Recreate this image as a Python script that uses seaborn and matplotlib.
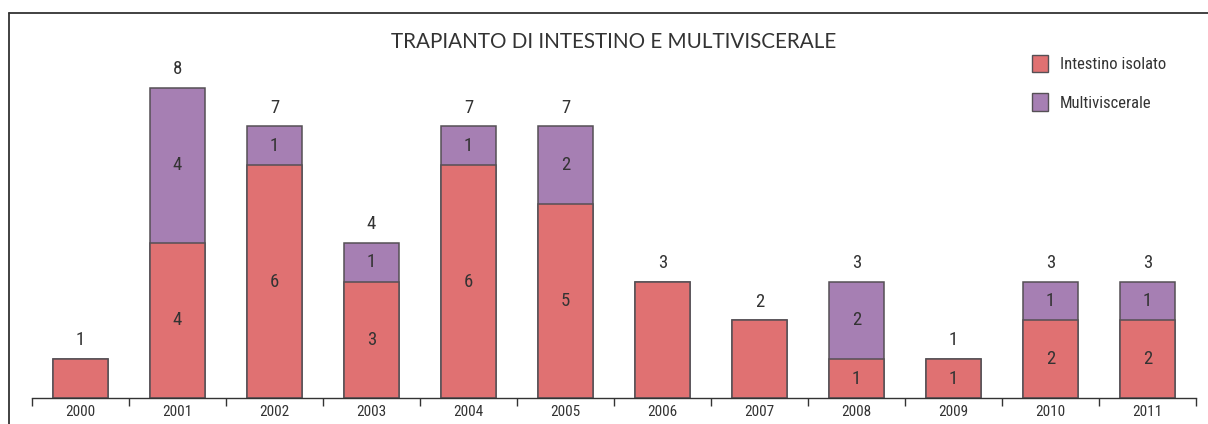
import numpy as np
import pandas as pd
import matplotlib.pyplot as plt
from matplotlib.lines import Line2D
from matplotlib.patches import Patch
import seaborn as sns

# Data
years = ["2000", "2001", "2002", "2003", "2004", "2005",
         "2006", "2007", "2008", "2009", "2010", "2011"]
intestino = [1, 4, 6, 3, 6, 5, 3, 2, 1, 1, 2, 2]
multiviscerale = [0, 4, 1, 1, 1, 2, 0, 0, 2, 0, 1, 1]
show_inner = [False, True, True, True, True, True, False, False, True, True, True, True]

red = "#E07172"
purple = "#A67FB3"
edge = "#555055"
txt = "#333333"

sns.set_style("white")
plt.rcParams["font.family"] = ["Roboto Condensed", "Lato", "DejaVu Sans"]

df = pd.DataFrame({"year": years, "intestino": intestino, "multi": multiviscerale})
df["totale"] = df["intestino"] + df["multi"]

fig = plt.figure(figsize=(12.08, 4.24), dpi=100)
ax = fig.add_axes([32 / 1208, 26 / 424, 1164 / 1208, 349.2 / 424])

# stacked: totals behind, intestino on top
sns.barplot(data=df, x="year", y="totale", color=purple, saturation=1,
            width=0.56, edgecolor=edge, linewidth=1.1, ax=ax)
sns.barplot(data=df, x="year", y="intestino", color=red, saturation=1,
            width=0.56, edgecolor=edge, linewidth=1.1, ax=ax)

ax.set_xlim(-0.5, 11.5)
ax.set_ylim(0, 9)
ax.set_xlabel("")
ax.set_ylabel("")
ax.set_yticks([])
for s in ["left", "right", "top"]:
    ax.spines[s].set_visible(False)
ax.spines["bottom"].set_color(txt)
ax.spines["bottom"].set_linewidth(1.0)

ax.set_xticks(np.arange(-0.5, 12, 1))
ax.set_xticklabels([])
ax.tick_params(axis="x", which="major", direction="out", length=6, width=1.0,
               color=txt, bottom=True)
ax.set_xticks(np.arange(len(years)), minor=True)
ax.set_xticklabels(years, minor=True, fontsize=11, color=txt)
ax.tick_params(axis="x", which="minor", length=0, pad=5)

# value labels
for i, row in df.iterrows():
    ax.annotate(str(row["totale"]), (i, row["totale"]), xytext=(0, 7),
                textcoords="offset points", ha="center", va="bottom",
                fontsize=13.5, color=txt)
    if show_inner[i]:
        ax.text(i, row["intestino"] / 2, str(row["intestino"]), ha="center",
                va="center", fontsize=13.5, color=txt)
        if row["multi"] > 0:
            ax.text(i, row["intestino"] + row["multi"] / 2, str(row["multi"]),
                    ha="center", va="center", fontsize=13.5, color=txt)

fig.text(614 / 1208, 1 - 42 / 424, "TRAPIANTO DI INTESTINO E MULTIVISCERALE",
         ha="center", va="center", fontsize=14.9, color=txt,
         family=["Lato", "DejaVu Sans"])

handles = [Patch(facecolor=red, edgecolor=edge, label="Intestino isolato"),
           Patch(facecolor=purple, edgecolor=edge, label="Multiviscerale")]
fig.legend(handles=handles, loc="upper left", bbox_to_anchor=(1025 / 1208, 1 - 48 / 424),
           frameon=False, fontsize=12, handlelength=1.0, handleheight=1.2,
           labelspacing=1.3, handletextpad=0.7, labelcolor=txt, borderaxespad=0)

# outer frame
fig.add_artist(Line2D([9 / 1208, 9 / 1208], [0, 1 - 13 / 424], color=txt, lw=1.3))
fig.add_artist(Line2D([9 / 1208, 1], [1 - 13 / 424, 1 - 13 / 424], color=txt, lw=1.3))

fig.savefig("out.png", dpi=100)
